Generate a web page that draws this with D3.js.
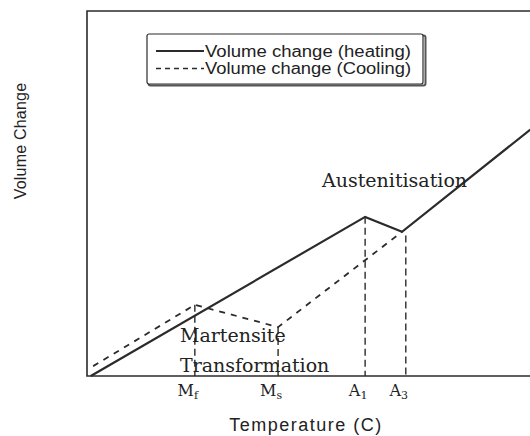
<!DOCTYPE html>
<html>
<head>
<meta charset="utf-8">
<script src="https://cdn.jsdelivr.net/npm/d3@7"></script>
<style>
  body { margin: 0; background: #fff; }
  svg { display: block; }
</style>
</head>
<body>
<div id="chart"></div>
<script>
// values (arbitrary temperature / volume units, 0-100)
const heatingTemp = [0.8, 58.8, 66.6, 100];
const heatingVol  = [0, 43.6, 39.5, 74];

const coolingTemp = [1.3, 22.8, 40.4, 66.6];
const coolingVol  = [2.7, 19.5, 13.4, 39.5];

// transformation temperatures and where their guide line starts
const markTemp  = [22.8, 40.4, 58.8, 67.4];
const markVol   = [19.5, 13.4, 43.6, 38.5];
const markBase  = ["M", "M", "A", "A"];
const markSub   = ["f", "s", "1", "3"];

const legendLabels = ["Volume change (heating)", "Volume change (Cooling)"];

let width = 530, height = 436;
let margin = {top: 11, right: -30, bottom: 60, left: 87};

let svg = d3.select("#chart")
    .append("svg")
    .attr("width", width)
    .attr("height", height);

let x = d3.scaleLinear()
    .domain([0, 100])
    .range([margin.left, width - margin.right]);

let y = d3.scaleLinear()
    .domain([0, 100])
    .range([height - margin.bottom, margin.top]);

const ink = "#2b2b2b";

// frame (left, top, bottom)
svg.append("path")
    .attr("d", `M${x(100)},${y(100)} H${x(0)} V${y(0)} H${x(100)}`)
    .attr("fill", "none")
    .attr("stroke", ink)
    .attr("stroke-width", 1.6);

let line = d3.line()
    .x(d => x(d[0]))
    .y(d => y(d[1]));

// guide lines down to the axis
svg.selectAll(".guide")
    .data(markTemp)
    .enter()
    .append("line")
    .attr("class", "guide")
    .attr("x1", d => x(d))
    .attr("x2", d => x(d))
    .attr("y1", (d, i) => y(markVol[i]))
    .attr("y2", y(0))
    .attr("stroke", ink)
    .attr("stroke-width", 1.4)
    .attr("stroke-dasharray", "7,4");

// cooling curve
svg.append("path")
    .datum(d3.zip(coolingTemp, coolingVol))
    .attr("d", line)
    .attr("fill", "none")
    .attr("stroke", ink)
    .attr("stroke-width", 1.8)
    .attr("stroke-dasharray", "6,6");

// heating curve
svg.append("path")
    .datum(d3.zip(heatingTemp, heatingVol))
    .attr("d", line)
    .attr("fill", "none")
    .attr("stroke", ink)
    .attr("stroke-width", 2.2);

// annotations
const serif = "'DejaVu Serif', 'Liberation Serif', serif";
let notes = [
    {t: "Austenitisation", px: 322, py: 187},
    {t: "Martensite", px: 180, py: 342},
    {t: "Transformation", px: 180, py: 372}
];
svg.selectAll(".note")
    .data(notes)
    .enter()
    .append("text")
    .attr("class", "note")
    .attr("x", d => d.px)
    .attr("y", d => d.py)
    .style("font-family", serif)
    .style("font-size", "19px")
    .attr("fill", "#222")
    .text(d => d.t);

// temperature labels under axis
let marks = svg.selectAll(".mark")
    .data(markTemp)
    .enter()
    .append("text")
    .attr("class", "mark")
    .attr("x", d => x(d) - 7)
    .attr("y", y(0) + 20)
    .attr("text-anchor", "middle")
    .style("font-family", serif)
    .style("font-size", "16px")
    .attr("fill", "#222");
marks.append("tspan").text((d, i) => markBase[i]);
marks.append("tspan")
    .attr("dy", 3)
    .style("font-size", "11px")
    .text((d, i) => markSub[i]);

// axis titles
const sans = "'Liberation Sans', Arial, sans-serif";
svg.append("text")
    .attr("x", 306)
    .attr("y", 431)
    .attr("text-anchor", "middle")
    .style("font-family", sans)
    .style("font-size", "18px")
    .style("letter-spacing", "1.5px")
    .attr("fill", "#222")
    .text("Temperature (C)");

svg.append("text")
    .attr("transform", "translate(26, 141) rotate(-90)")
    .attr("text-anchor", "middle")
    .style("font-family", sans)
    .style("font-size", "16px")
    .style("letter-spacing", "0.2px")
    .attr("fill", "#222")
    .text("Volume Change");

// legend
let legend = svg.append("g")
    .attr("transform", "translate(147, 34)");

legend.append("rect")
    .attr("x", 1.5)
    .attr("y", 1.5)
    .attr("width", 277)
    .attr("height", 50)
    .attr("rx", 2)
    .attr("fill", "none")
    .attr("stroke", "#555")
    .attr("stroke-width", 2);

legend.append("rect")
    .attr("width", 276)
    .attr("height", 50)
    .attr("rx", 2)
    .attr("fill", "#fff")
    .attr("stroke", ink)
    .attr("stroke-width", 1.2);

legend.selectAll("line")
    .data(legendLabels)
    .enter()
    .append("line")
    .attr("x1", 9)
    .attr("x2", 57)
    .attr("y1", (d, i) => 17 + i * 17.5)
    .attr("y2", (d, i) => 17 + i * 17.5)
    .attr("stroke", ink)
    .attr("stroke-width", (d, i) => i == 0 ? 2 : 1.5)
    .attr("stroke-dasharray", (d, i) => i == 0 ? null : "5,4");

legend.selectAll("text")
    .data(legendLabels)
    .enter()
    .append("text")
    .attr("x", 58)
    .attr("y", (d, i) => 22.5 + i * 17.5)
    .attr("textLength", 206)
    .attr("lengthAdjust", "spacingAndGlyphs")
    .style("font-family", sans)
    .style("font-size", "16px")
    .attr("fill", "#222")
    .text(d => d);
</script>
</body>
</html>
